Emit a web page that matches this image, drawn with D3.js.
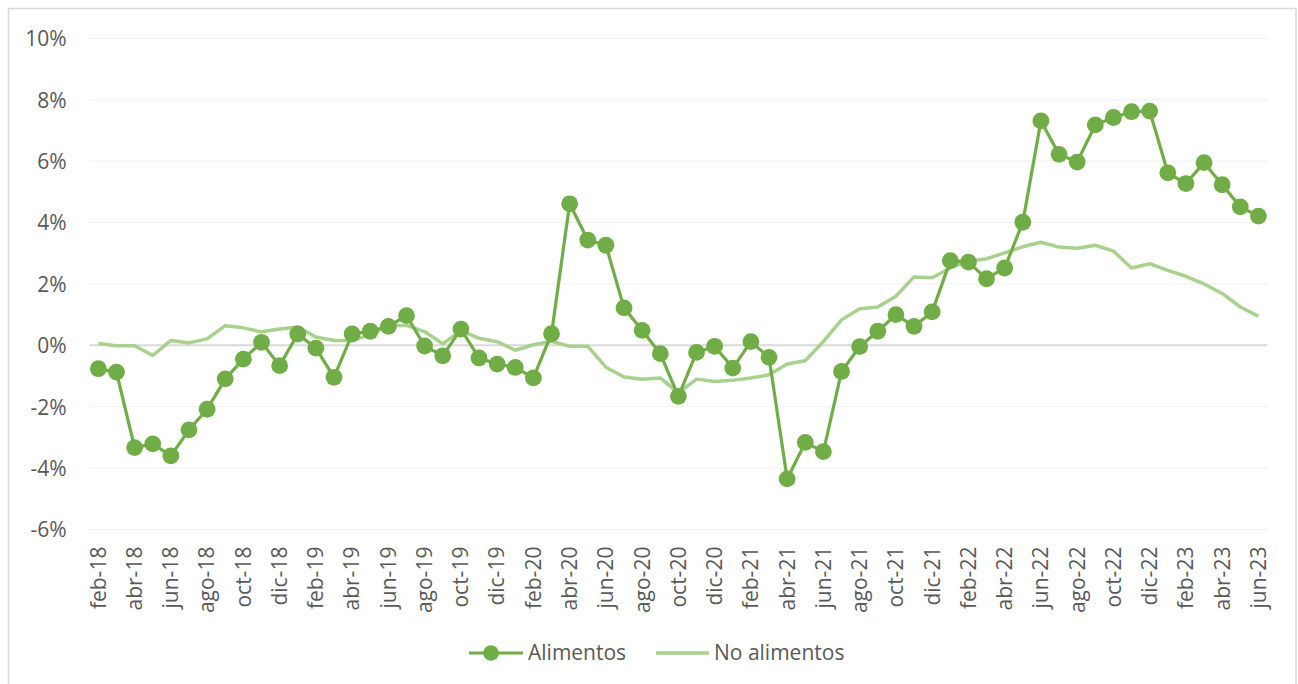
<!DOCTYPE html>
<html>
<head>
<meta charset="utf-8">
<script src="https://cdn.jsdelivr.net/npm/d3@7"></script>
<style>
  html, body { margin: 0; padding: 0; background: #fff; }
  svg { display: block; }
  text { font-family: "Open Sans", "Noto Sans", sans-serif; fill: #595959; }
</style>
</head>
<body>
<svg id="chart" width="1298" height="684"></svg>
<script>
// Monthly categories, feb-18 .. jun-23
const categories = [
  "feb-18","mar-18","abr-18","may-18","jun-18","jul-18","ago-18","sep-18","oct-18","nov-18","dic-18",
  "ene-19","feb-19","mar-19","abr-19","may-19","jun-19","jul-19","ago-19","sep-19","oct-19","nov-19","dic-19",
  "ene-20","feb-20","mar-20","abr-20","may-20","jun-20","jul-20","ago-20","sep-20","oct-20","nov-20","dic-20",
  "ene-21","feb-21","mar-21","abr-21","may-21","jun-21","jul-21","ago-21","sep-21","oct-21","nov-21","dic-21",
  "ene-22","feb-22","mar-22","abr-22","may-22","jun-22","jul-22","ago-22","sep-22","oct-22","nov-22","dic-22",
  "ene-23","feb-23","mar-23","abr-23","may-23","jun-23"
];

// Year-on-year change, %
const alimentos = [
  -0.76, -0.87, -3.33, -3.21, -3.60, -2.75, -2.08, -1.09, -0.45, 0.10, -0.66,
  0.37, -0.09, -1.04, 0.37, 0.46, 0.62, 0.97, -0.02, -0.34, 0.53, -0.41, -0.61,
  -0.72, -1.06, 0.38, 4.61, 3.43, 3.26, 1.22, 0.49, -0.27, -1.66, -0.23, -0.03,
  -0.74, 0.12, -0.39, -4.35, -3.16, -3.46, -0.85, -0.04, 0.46, 1.00, 0.62, 1.09,
  2.76, 2.71, 2.17, 2.52, 4.01, 7.31, 6.22, 5.97, 7.18, 7.42, 7.61, 7.63,
  5.62, 5.27, 5.95, 5.23, 4.51, 4.21
];

const noAlimentos = [
  0.06, -0.01, -0.01, -0.33, 0.16, 0.08, 0.21, 0.64, 0.57, 0.44, 0.53,
  0.60, 0.27, 0.16, 0.16, 0.35, 0.64, 0.65, 0.45, 0.05, 0.48, 0.23, 0.12,
  -0.16, 0.02, 0.13, -0.03, -0.03, -0.71, -1.03, -1.10, -1.06, -1.55, -1.10, -1.18,
  -1.14, -1.06, -0.96, -0.61, -0.50, 0.13, 0.83, 1.19, 1.25, 1.60, 2.23, 2.20,
  2.52, 2.74, 2.82, 3.01, 3.21, 3.36, 3.20, 3.16, 3.26, 3.07, 2.52, 2.66,
  2.44, 2.25, 2.00, 1.69, 1.25, 0.95
];

const yTicks = [-6, -4, -2, 0, 2, 4, 6, 8, 10];

const seriesNames = ["Alimentos", "No alimentos"];
const colorFood = "#70ad47";
const colorNonFood = "#a9d18e";

const svg = d3.select("#chart");

// Outer chart frame
svg.append("rect")
  .attr("x", 8.5).attr("y", 8.5)
  .attr("width", 1287.5).attr("height", 680)
  .attr("fill", "none")
  .attr("stroke", "#d9d9d9")
  .attr("stroke-width", 1.5);

const plot = { left: 89.3, right: 1267.5, top: 38.3, bottom: 529.6 };

const x = d3.scaleBand()
  .domain(categories)
  .range([plot.left, plot.right]);

const y = d3.scaleLinear()
  .domain([-6, 10])
  .range([plot.bottom, plot.top]);

const cx = d => x(d) + x.bandwidth() / 2;

// Horizontal gridlines
svg.append("g")
  .selectAll("line")
  .data(yTicks.filter(t => t !== 0))
  .join("line")
  .attr("x1", plot.left).attr("x2", plot.right)
  .attr("y1", d => y(d)).attr("y2", d => y(d))
  .attr("stroke", "#efefef")
  .attr("stroke-width", 1);

// Y axis labels
const yAxis = d3.axisLeft(y)
  .tickValues(yTicks)
  .tickSize(0)
  .tickPadding(0)
  .tickFormat(d => d + "%");

svg.append("g")
  .attr("transform", `translate(${66.5},0)`)
  .call(yAxis)
  .call(g => g.select(".domain").remove())
  .call(g => g.selectAll("text")
    .attr("font-size", 21)
    .attr("fill", "#595959")
    .attr("dy", "0.35em")
    .style("font-family", "'Open Sans', sans-serif"));

// Zero line
svg.append("line")
  .attr("x1", plot.left).attr("x2", plot.right)
  .attr("y1", y(0)).attr("y2", y(0))
  .attr("stroke", "#d9d9d9")
  .attr("stroke-width", 2);

// X axis labels (every second month), rotated
const xAxis = d3.axisBottom(x)
  .tickValues(categories.filter((d, i) => i % 2 === 0))
  .tickSize(0)
  .tickPadding(0);

svg.append("g")
  .attr("transform", `translate(0,${plot.bottom})`)
  .call(xAxis)
  .call(g => g.select(".domain").remove())
  .call(g => g.selectAll("text")
    .attr("font-size", 21)
    .attr("fill", "#595959")
    .style("font-family", "'Open Sans', sans-serif")
    .attr("text-anchor", "end")
    .attr("transform", "rotate(-90)")
    .attr("x", -17)
    .attr("y", 0)
    .attr("dy", "0.35em"));

// No alimentos line
const line = d3.line()
  .x((d, i) => cx(categories[i]))
  .y(d => y(d));

svg.append("path")
  .datum(noAlimentos)
  .attr("fill", "none")
  .attr("stroke", colorNonFood)
  .attr("stroke-width", 3.5)
  .attr("stroke-linejoin", "round")
  .attr("d", line);

// Alimentos line with markers
svg.append("path")
  .datum(alimentos)
  .attr("fill", "none")
  .attr("stroke", colorFood)
  .attr("stroke-width", 3.2)
  .attr("stroke-linejoin", "round")
  .attr("d", line);

svg.append("g")
  .selectAll("circle")
  .data(alimentos)
  .join("circle")
  .attr("cx", (d, i) => cx(categories[i]))
  .attr("cy", d => y(d))
  .attr("r", 8.4)
  .attr("fill", colorFood);

// Legend
const legend = svg.append("g").attr("transform", "translate(0,653)");
const lgFood = legend.append("g");
lgFood.append("line")
  .attr("x1", 469).attr("x2", 523).attr("y1", 0).attr("y2", 0)
  .attr("stroke", colorFood).attr("stroke-width", 3.2);
lgFood.append("circle")
  .attr("cx", 491).attr("cy", 0).attr("r", 7.8)
  .attr("fill", colorFood);
lgFood.append("text")
  .attr("x", 528).attr("y", 0).attr("dy", "0.35em")
  .attr("font-size", 21)
  .text(seriesNames[0]);

const lgNon = legend.append("g");
lgNon.append("line")
  .attr("x1", 656).attr("x2", 709).attr("y1", 0).attr("y2", 0)
  .attr("stroke", colorNonFood).attr("stroke-width", 3.5);
lgNon.append("text")
  .attr("x", 714).attr("y", 0).attr("dy", "0.35em")
  .attr("font-size", 21)
  .text(seriesNames[1]);
</script>
</body>
</html>
